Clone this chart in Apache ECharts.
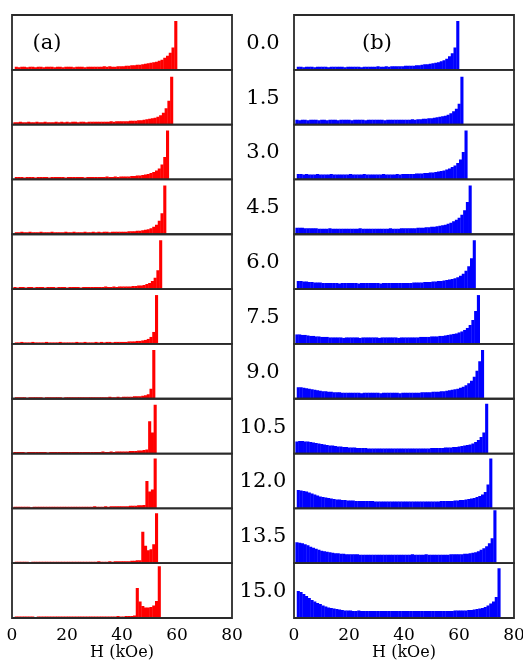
<!DOCTYPE html>
<html><head><meta charset="utf-8">
<script src="https://cdn.jsdelivr.net/npm/echarts@6/dist/echarts.min.js"></script>
<style>html,body{margin:0;padding:0;background:#fff;overflow:hidden}#c{width:523px;height:662px}</style>
</head><body><div id="c"></div>
<script>
// Field values (panel labels), x tick labels
const fieldLabels = ['0.0','1.5','3.0','4.5','6.0','7.5','9.0','10.5','12.0','13.5','15.0'];
const xTicks = [0,20,40,60,80];
const xName = 'H (kOe)';
const panelTags = ['(a)','(b)'];

// Left edge (kOe) of the first 1-kOe bin of each histogram
const redStart  = [1,0.5,1,1,0.5,1,1,0.5,0.5,1,1];
const blueStart = [1,0.5,1,0.5,1,0.5,1,0.5,1,0.5,1];

// (a) red histograms, counts per 1 kOe bin (relative units)
const red_0_0 = [6,5,6,6,5,6,6,5,6,6, 5,6,6,6,5,6,6,5,6,6, 6,5,6,6,6,5,6,6,6,6, 6,6,7,6,7,6,6,7,7,7,
  8,8,9,9,10,10,11,12,13,14, 15,16,18,20,24,28,34,45,98];
const red_1_5 = [5,5,6,5,5,6,5,5,6,5, 5,6,5,5,5,6,5,6,5,6, 5,6,6,5,6,6,5,6,6,6, 6,6,6,6,6,7,6,7,7,7,
  7,7,8,8,8,9,9,10,11,12, 13,14,16,19,24,33,48,96];
const red_3_0 = [5,5,5,4,5,5,5,4,5,5, 5,5,4,5,5,5,5,5,4,5, 5,5,5,5,5,4,5,5,5,5, 5,5,5,6,5,5,6,5,6,6,
  6,6,7,7,8,8,9,10,11,13, 15,18,22,30,45,98];
const red_4_5 = [4,4,5,4,4,5,4,4,4,5, 4,4,4,5,4,4,4,4,5,4, 4,5,4,4,4,5,4,4,5,4, 5,4,5,5,4,5,5,5,5,5,
  5,6,6,6,7,7,8,9,10,12, 15,19,27,42,98];
const red_6_0 = [4,3,4,4,3,4,4,3,4,4, 4,3,4,4,4,3,4,4,4,3, 4,4,4,4,3,4,4,4,4,4, 4,4,4,5,4,4,5,4,5,5,
  5,5,5,6,6,7,7,8,10,12, 16,23,38,98];
const red_7_5 = [3,3,4,3,3,3,4,3,3,3, 3,4,3,3,3,3,4,3,3,3, 3,3,4,3,3,4,3,3,3,4, 3,4,3,4,4,3,4,4,4,4,
  4,5,5,5,6,6,7,8,10,14,24,98];
const red_9_0 = [3,3,3,3,2,3,3,3,3,3, 2,3,3,3,3,3,3,2,3,3, 3,3,3,3,3,3,3,3,3,3, 3,3,3,3,4,3,3,4,3,4,
  4,4,4,5,5,5,6,7,9,20,98];
const red_10_5 = [3,3,3,3,2,3,3,3,3,3, 3,3,2,3,3,3,3,3,3,3, 3,3,3,3,3,3,3,3,3,3, 3,3,4,3,3,4,3,4,4,4,
  4,4,5,5,5,6,6,7,8, 65,42,98];
const red_12_0 = [3,3,3,3,3,3,2,3,3,3, 3,3,3,3,3,3,3,3,3,3, 3,3,3,3,3,3,3,3,3,4, 3,3,3,4,3,4,4,4,4,4,
  4,4,5,5,5,6,6,7, 55,34,38,100];
const red_13_5 = [3,3,3,3,3,2,3,3,3,3, 3,3,3,3,3,3,3,3,3,3, 3,3,3,3,3,3,3,3,3,3, 4,3,3,3,4,3,4,4,4,4,
  4,4,5,5,6,6, 63,35,26,28,38,100];
const red_15_0 = [3,3,3,3,3,3,3,2,3,3, 3,3,3,3,3,3,3,3,3,3, 3,3,3,3,3,3,3,3,3,3, 3,3,3,3,3,3,3,4,3,3,
  4,4,4,5, 60,33,24,21,21,22,25,34,104];

// (b) blue histograms, counts per 1 kOe bin (relative units)
const blue_0_0 = [6,6,5,6,6,6,5,6,6,6, 6,5,6,6,6,6,6,5,6,6, 6,6,6,5,6,6,6,6,6,7, 6,6,7,6,7,7,7,7,7,8,
  8,8,8,9,9,10,11,11,12,13, 14,15,17,19,22,27,33,45,98];
const blue_1_5 = [10,9,10,10,9,10,10,10,9,10, 10,9,10,10,10,9,10,10,10,10, 9,10,10,10,10,9,10,10,10,10, 10,10,9,10,10,10,10,10,10,10,
  10,10,11,10,11,11,12,12,13,13, 14,15,16,17,18,20,23,27,32,42,96];
const blue_3_0 = [11,11,10,11,10,10,10,11,10,10, 10,10,11,10,10,10,10,10,10,11, 10,10,10,10,11,10,10,10,10,10, 10,11,10,10,10,10,11,10,11,11,
  11,11,11,12,12,12,13,13,14,14, 15,16,17,18,20,22,25,28,33,40,55,98];
const blue_4_5 = [13,13,13,12,12,12,12,12,11,11, 11,11,12,11,11,11,11,11,11,11, 11,11,11,12,11,11,11,11,11,11, 11,11,11,11,12,11,11,11,12,12,
  12,12,12,12,13,13,13,14,14,15, 15,16,17,18,19,21,23,26,29,33,39,48,65,98];
const blue_6_0 = [16,16,15,15,14,14,13,13,13,12, 12,12,12,12,12,11,12,12,12,12, 12,12,11,12,12,12,12,12,12,12, 11,12,12,12,12,12,12,12,12,12,
  12,12,13,13,13,13,14,14,14,15, 15,16,16,17,18,19,20,22,24,27, 31,37,46,62,98];
const blue_7_5 = [19,19,18,18,17,16,16,15,15,14, 14,14,13,13,13,13,13,12,13,13, 13,13,13,12,13,13,13,13,13,13, 12,13,13,13,13,13,13,12,13,13,
  13,13,13,13,13,14,14,14,14,15, 15,15,16,16,17,18,19,20,21,23, 25,28,32,38,48,66,98];
const blue_9_0 = [23,23,22,21,20,19,18,17,16,15, 15,14,14,13,13,13,12,12,12,12, 12,12,12,11,12,12,12,12,12,12, 11,12,12,12,12,12,12,11,12,12,
  12,12,12,12,12,13,13,13,13,14, 14,14,15,15,16,17,18,19,20,22, 24,27,31,36,44,56,75,98];
const blue_10_5 = [24,25,25,24,24,23,22,21,20,19, 18,17,16,16,15,14,14,13,13,12, 12,12,11,11,11,11,10,10,10,10, 10,10,10,10,10,10,10,10,10,10,
  10,10,10,10,10,10,10,10,10,11, 11,11,11,11,12,12,12,13,13,14, 15,16,17,18,20,23,27,33,42,100];
const blue_12_0 = [37,36,35,34,32,30,28,26,24,23, 22,21,20,19,18,18,17,17,16,16, 16,15,15,15,15,15,15,15,14,14, 14,14,14,14,14,14,14,14,14,14,
  14,14,14,14,14,14,14,14,14,14, 14,14,15,15,15,15,15,16,16,17, 17,18,19,20,21,23,25,28,33,48,100];
const blue_13_5 = [42,41,40,38,36,33,31,29,27,25, 24,23,22,21,20,20,19,19,18,18, 18,18,18,17,17,17,17,17,17,17, 17,17,17,17,17,17,17,17,17,17,
  17,17,18,17,17,17,17,18,17,17, 17,17,17,17,17,17,18,18,18,18, 18,19,19,20,21,22,24,27,30,34,40,50,106];
const blue_15_0 = [54,52,48,44,40,36,33,30,28,25, 23,21,20,19,18,17,16,15,15,15, 14,14,15,14,14,14,14,14,14,14, 14,14,14,14,14,14,14,14,14,14,
  14,14,14,14,14,14,14,14,14,14, 14,14,14,14,14,14,14,15,15,15, 15,15,16,16,17,18,19,20,22,25, 29,33,42,100];

const redData  = [red_0_0,red_1_5,red_3_0,red_4_5,red_6_0,red_7_5,red_9_0,red_10_5,red_12_0,red_13_5,red_15_0];
const blueData = [blue_0_0,blue_1_5,blue_3_0,blue_4_5,blue_6_0,blue_7_5,blue_9_0,blue_10_5,blue_12_0,blue_13_5,blue_15_0];

const FONT = 'DejaVu Serif';
const chart = echarts.init(document.getElementById('c'), null, {renderer:'canvas', width:523, height:662});
const grids=[], xAxes=[], yAxes=[], series=[], graphics=[];
const top0 = 15, bottom = 618, n = fieldLabels.length, h = (bottom - top0) / n;

function renderItem(params, api){
  const a = api.coord([api.value(0), api.value(2)]);
  const b = api.coord([api.value(1), 0]);
  return {type:'rect', shape:{x:a[0], y:a[1], width:b[0]-a[0]+0.35, height:b[1]-a[1]},
          style:{fill: api.visual('color')}};
}

const columns = [
  {color:'#ff0000', data:redData, start:redStart, left:12},
  {color:'#0000ff', data:blueData, start:blueStart, left:294}
];
columns.forEach((col) => {
  col.data.forEach((arr, i) => {
    const idx = grids.length;
    const last = i === n - 1;
    grids.push({left:col.left, top:top0 + i*h, width:220, height:h, show:true, z:5,
      borderColor:'#2a2a2a', borderWidth:1.8, backgroundColor:'transparent',
      containLabel:false, outerBoundsMode:'none'});
    xAxes.push({gridIndex:idx, type:'value', min:xTicks[0], max:xTicks[xTicks.length-1],
      interval:xTicks[1]-xTicks[0],
      axisLine:{show:false}, axisTick:{show:false}, splitLine:{show:false},
      axisLabel:{show:last, color:'#000', fontFamily:FONT, fontSize:17, margin:9, hideOverlap:false,
        showMinLabel:true, showMaxLabel:true},
      name: last ? xName : '', nameLocation:'middle', nameGap:27,
      nameTextStyle:{color:'#000', fontFamily:FONT, fontSize:16}});
    yAxes.push({gridIndex:idx, type:'value', min:0, max:110, show:false});
    series.push({type:'custom', xAxisIndex:idx, yAxisIndex:idx, renderItem, silent:true,
      itemStyle:{color:col.color}, clip:true, encode:{x:[0,1], y:2},
      data: arr.map((v,k) => [col.start[i]+k, col.start[i]+k+1, v])});
  });
});

fieldLabels.forEach((t,i) => {
  graphics.push({type:'text', x:263, y:top0 + i*h + h/2 + 1,
    style:{text:t, fill:'#000', font:'21px "DejaVu Serif"', textAlign:'center', textVerticalAlign:'middle'}});
});
graphics.push({type:'text', x:47, y:44, style:{text:panelTags[0], fill:'#000', font:'21px "DejaVu Serif"', textAlign:'center', textVerticalAlign:'middle'}});
graphics.push({type:'text', x:377, y:44, style:{text:panelTags[1], fill:'#000', font:'21px "DejaVu Serif"', textAlign:'center', textVerticalAlign:'middle'}});

chart.setOption({animation:false, backgroundColor:'#fff', grid:grids, xAxis:xAxes, yAxis:yAxes, series, graphic:graphics});
</script>
</body></html>
